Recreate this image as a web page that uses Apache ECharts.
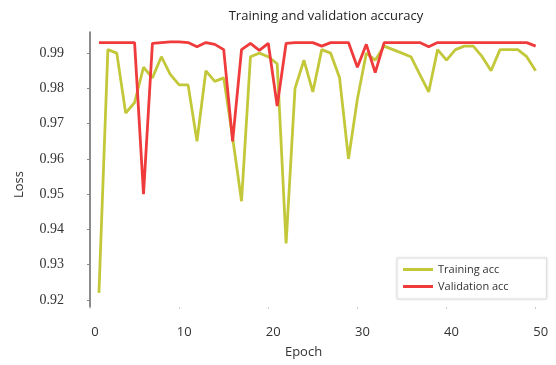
<!DOCTYPE html>
<html>
<head>
<meta charset="utf-8">
<script src="https://cdn.jsdelivr.net/npm/echarts@6/dist/echarts.min.js"></script>
<style>html,body{margin:0;padding:0;background:#fff;}#c{width:556px;height:365px;}</style>
</head>
<body>
<div id="c"></div>
<script>
const epochs = [1,2,3,4,5,6,7,8,9,10,11,12,13,14,15,16,17,18,19,20,21,22,23,24,25,26,27,28,29,30,31,32,33,34,35,36,37,38,39,40,41,42,43,44,45,46,47,48,49,50];
const trainingAcc = [0.922,0.991,0.990,0.973,0.976,0.986,0.983,0.989,0.984,0.981,0.981,0.965,0.985,0.982,0.983,0.966,0.948,0.989,0.990,0.989,0.987,0.936,0.980,0.988,0.979,0.991,0.990,0.983,0.960,0.977,0.990,0.988,0.992,0.991,0.990,0.989,0.984,0.979,0.991,0.988,0.991,0.992,0.992,0.989,0.985,0.991,0.991,0.991,0.989,0.985];
const validationAcc = [0.993,0.993,0.993,0.993,0.993,0.950,0.9928,0.993,0.9932,0.9932,0.993,0.9918,0.993,0.9925,0.991,0.965,0.991,0.9928,0.9908,0.9928,0.975,0.9928,0.993,0.993,0.993,0.992,0.993,0.993,0.993,0.986,0.9925,0.9845,0.993,0.993,0.993,0.993,0.993,0.9918,0.993,0.993,0.993,0.993,0.993,0.993,0.993,0.993,0.993,0.993,0.993,0.992];
const xTicks = [0,10,20,30,40,50];
const yTicks = [0.92,0.93,0.94,0.95,0.96,0.97,0.98,0.99];

const chart = echarts.init(document.getElementById('c'));
const pair = (arr) => epochs.map((e, i) => [e, arr[i]]);
chart.setOption({
  backgroundColor: '#fff',
  animation: false,
  title: {
    text: 'Training and validation accuracy',
    left: 321, top: 5, textAlign: 'center',
    textStyle: {fontFamily: 'Open Sans', fontSize: 13, fontWeight: 'normal', color: '#222'}
  },
  legend: {
    orient: 'vertical', left: 397, top: 258,
    padding: [6, 38, 7, 6], itemGap: 6,
    itemWidth: 30, itemHeight: 3, icon: 'rect',
    borderColor: '#dcdcdc', borderWidth: 1,
    backgroundColor: '#fff',
    shadowColor: 'rgba(0,0,0,0.08)', shadowBlur: 3,
    textStyle: {fontFamily: 'Open Sans', fontSize: 11, color: '#333'},
    data: ['Training acc', 'Validation acc']
  },
  grid: {left: 74, right: 7, top: 32, bottom: 58},
  xAxis: {
    type: 'value', min: -1.8, max: 51.5,
    name: 'Epoch', nameLocation: 'middle', nameGap: 39,
    nameTextStyle: {fontFamily: 'Open Sans', fontSize: 13, color: '#333', padding: [0, 16, 0, 0]},
    axisLine: {show: false},
    splitLine: {show: false},
    axisTick: {show: true, customValues: xTicks, length: 2, lineStyle: {color: '#ccc'}},
    axisLabel: {customValues: xTicks, margin: 19, padding: [0, 0, 0, 10],
      fontFamily: 'Open Sans', fontSize: 13, color: '#333'}
  },
  yAxis: {
    type: 'value', min: 0.918, max: 0.996,
    name: 'Loss', nameLocation: 'middle', nameGap: 48,
    nameTextStyle: {fontFamily: 'Open Sans', fontSize: 13, color: '#333', padding: [0, 30, 0, 0]},
    axisLine: {show: true, lineStyle: {color: '#666', width: 1.5}},
    splitLine: {show: false},
    axisTick: {show: true, customValues: yTicks, length: 3, lineStyle: {color: '#888'}},
    axisLabel: {customValues: yTicks, margin: 10, formatter: v => v.toFixed(2),
      fontFamily: 'Liberation Serif', fontSize: 14, color: '#333'}
  },
  series: [
    {name: 'Training acc', type: 'line', data: pair(trainingAcc), showSymbol: false,
      lineStyle: {color: '#c3c83a', width: 2.8}, itemStyle: {color: '#c3c83a'}, z: 2},
    {name: 'Validation acc', type: 'line', data: pair(validationAcc), showSymbol: false,
      lineStyle: {color: '#ef3b3b', width: 2.8}, itemStyle: {color: '#ef3b3b'}, z: 3}
  ]
});
</script>
</body>
</html>
